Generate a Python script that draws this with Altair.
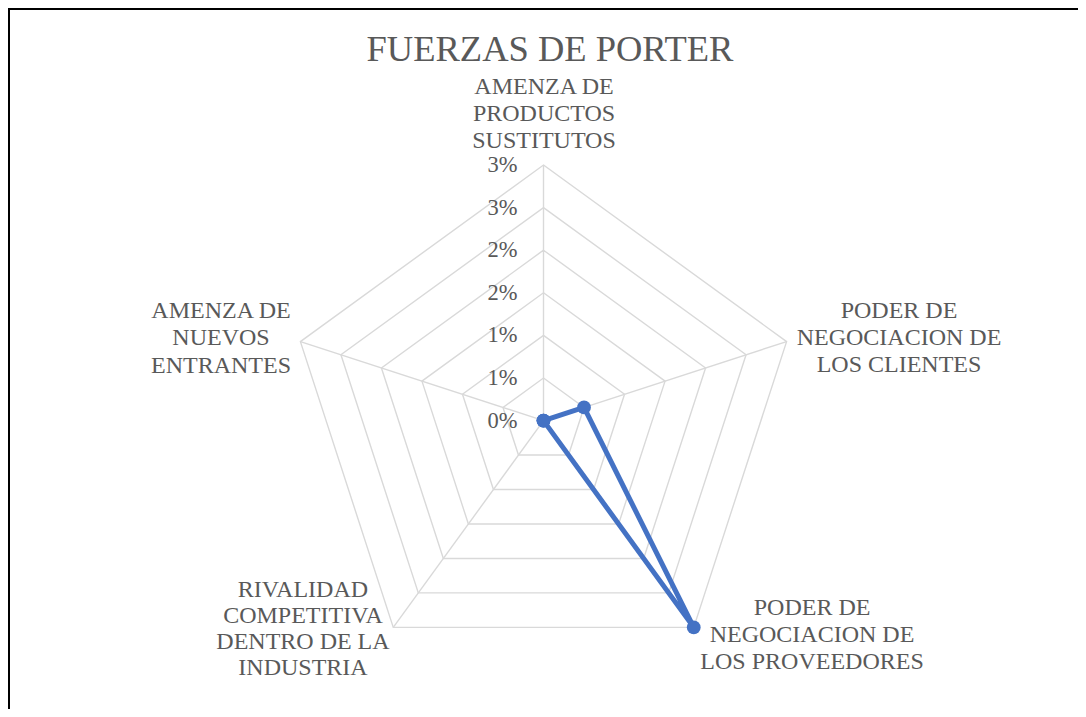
import altair as alt
import pandas as pd

# ---------------- data ----------------
categories = [
    "AMENZA DE\nPRODUCTOS\nSUSTITUTOS",
    "PODER DE\nNEGOCIACION DE\nLOS CLIENTES",
    "PODER DE\nNEGOCIACION DE\nLOS PROVEEDORES",
    "RIVALIDAD\nCOMPETITIVA\nDENTRO DE LA\nINDUSTRIA",
    "AMENZA DE\nNUEVOS\nENTRANTES",
]
values = [0.0, 0.005, 0.03, 0.0, 0.0]
ring_levels = [0.005, 0.01, 0.015, 0.02, 0.025, 0.03]
tick_values = [0.0, 0.005, 0.01, 0.015, 0.02, 0.025, 0.03]
tick_labels = ["0%", "1%", "1%", "2%", "2%", "3%", "3%"]
title_text = "FUERZAS DE PORTER"

# ---------------- layout ----------------
W, H = 1070, 701
CX, CY = 535.5, 412.6          # radar centre in chart pixels
PX_PER_UNIT = 8520.0           # pixels per 1.0 (=100%)
FONT = "Times New Roman, Liberation Serif, serif"
TXT = "#595959"
GRID = "#d9d9d9"
BLUE = "#4472C4"
N = len(categories)

xdom = [-CX / PX_PER_UNIT, (W - CX) / PX_PER_UNIT]
ydom = [-(H - CY) / PX_PER_UNIT, CY / PX_PER_UNIT]
xs = alt.Scale(domain=xdom, nice=False, zero=False)
ys = alt.Scale(domain=ydom, nice=False, zero=False)

ang = f"PI/2 - datum.idx * 2 * PI / {N}"

def polar(chart, rfield):
    return chart.transform_calculate(
        x=f"datum.{rfield} * cos({ang})",
        y=f"datum.{rfield} * sin({ang})",
    )

X = alt.X("x:Q", scale=xs, axis=None)
Y = alt.Y("y:Q", scale=ys, axis=None)

# grid rings
ring_df = pd.DataFrame(
    [{"level": lv, "idx": i} for lv in ring_levels for i in range(N)]
)
rings = polar(alt.Chart(ring_df), "level").mark_line(
    interpolate="linear-closed", color=GRID, strokeWidth=1.4
).encode(x=X, y=Y, detail="level:N", order="idx:Q")

# spokes
spoke_df = pd.DataFrame({"idx": list(range(N)), "r": [max(ring_levels)] * N})
spokes = polar(alt.Chart(spoke_df), "r").transform_calculate(
    x0="0", y0="0"
).mark_rule(color=GRID, strokeWidth=1.4).encode(
    x=alt.X("x0:Q", scale=xs, axis=None),
    y=alt.Y("y0:Q", scale=ys, axis=None),
    x2="x:Q",
    y2="y:Q",
)

# tick labels
tick_df = pd.DataFrame({"v": tick_values, "label": tick_labels, "idx": [0] * len(tick_values)})
ticks = polar(alt.Chart(tick_df), "v").mark_text(
    align="right", baseline="middle", dx=-26, font=FONT, fontSize=22.5, color=TXT
).encode(x=X, y=Y, text="label:N")

# category labels (offset of the block centre from the outer vertex, line height)
cat_df = pd.DataFrame({"idx": list(range(N)), "cat": categories, "r": [max(ring_levels)] * N})
offsets = [(0.5, -51.5, 27), (112.4, -3.6, 27), (118.3, 7.6, 27),
           (-90.3, 1.6, 26), (-79.4, -3.6, 27.5)]
cat_layers = []
for i, (ddx, ddy, lh) in enumerate(offsets):
    nlines = categories[i].count("\n") + 1
    cat_layers.append(
        polar(alt.Chart(cat_df), "r")
        .transform_filter(f"datum.idx == {i}")
        .mark_text(
            align="center", baseline="middle", dx=ddx,
            dy=ddy - (nlines - 1) * lh / 2, font=FONT,
            fontSize=24, color=TXT, lineBreak="\n", lineHeight=lh
        )
        .encode(x=X, y=Y, text="cat:N")
    )

# series
ser_df = pd.DataFrame({"idx": list(range(N)), "value": values, "cat": categories})
ser_line = polar(alt.Chart(ser_df), "value").mark_line(
    interpolate="linear-closed", color=BLUE, strokeWidth=5, strokeJoin="round"
).encode(x=X, y=Y, order="idx:Q")
ser_pts = polar(alt.Chart(ser_df), "value").mark_circle(
    color=BLUE, size=190, opacity=1
).encode(x=X, y=Y)

# title
title_df = pd.DataFrame({"t": [title_text]})
title = alt.Chart(title_df).mark_text(
    align="center", baseline="alphabetic", font=FONT, fontSize=36.5, color=TXT
).encode(x=alt.value(542), y=alt.value(53), text="t:N")

# frame (left and top edges)
frame_l = alt.Chart(title_df).mark_rule(color="#000000", strokeWidth=2).encode(
    x=alt.value(1), y=alt.value(0), y2=alt.value(H)
)
frame_t = alt.Chart(title_df).mark_rule(color="#000000", strokeWidth=2).encode(
    y=alt.value(1), x=alt.value(0), x2=alt.value(W)
)

chart = alt.layer(
    rings, spokes, ticks, *cat_layers, ser_line, ser_pts, title, frame_l, frame_t
).properties(
    width=W, height=H, padding=0,
    autosize=alt.AutoSizeParams(type="none"),
    background="white",
).configure_view(stroke=None)

chart.save("out.html", embed_options={"renderer": "svg", "actions": False})
